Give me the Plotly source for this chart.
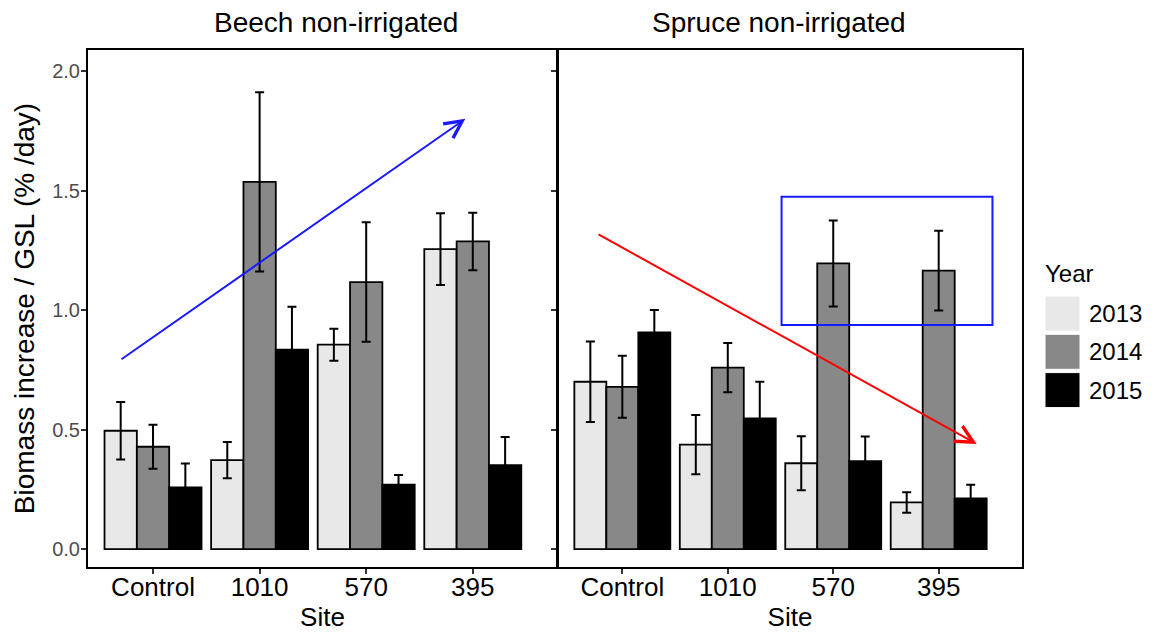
import plotly.graph_objects as go

# ---------------- data ----------------
sites = ["Control", "1010", "570", "395"]
site_pos = [1, 2, 3, 4]
years = ["2013", "2014", "2015"]
year_colors = ["#e8e8e8", "#888888", "#000000"]

beech_2013 = [0.495, 0.372, 0.855, 1.255]
beech_2013_err = [0.120, 0.076, 0.067, 0.150]
beech_2014 = [0.428, 1.536, 1.117, 1.287]
beech_2014_err = [0.092, 0.375, 0.250, 0.120]
beech_2015 = [0.258, 0.834, 0.270, 0.351]
beech_2015_err = [0.100, 0.180, 0.040, 0.118]

spruce_2013 = [0.700, 0.437, 0.359, 0.195]
spruce_2013_err = [0.168, 0.124, 0.113, 0.043]
spruce_2014 = [0.679, 0.759, 1.195, 1.165]
spruce_2014_err = [0.130, 0.103, 0.180, 0.167]
spruce_2015 = [0.907, 0.547, 0.368, 0.212]
spruce_2015_err = [0.093, 0.153, 0.103, 0.057]

panel_titles = ["Beech non-irrigated", "Spruce non-irrigated"]
y_ticks = [0.0, 0.5, 1.0, 1.5, 2.0]

# annotations (data coordinates)
beech_arrow = [(0.69, 0.79), (3.93, 1.80)]     # start, end
spruce_arrow = [(0.76, 1.32), (4.36, 0.44)]
spruce_box = [(2.51, 0.937), (4.51, 1.474)]     # (x0,y0),(x1,y1)

# ---------------- figure ----------------
W, H = 1155, 635
FONT = "Liberation Sans, Arial, Helvetica, sans-serif"

fig = go.Figure()

beech = [(beech_2013, beech_2013_err), (beech_2014, beech_2014_err), (beech_2015, beech_2015_err)]
spruce = [(spruce_2013, spruce_2013_err), (spruce_2014, spruce_2014_err), (spruce_2015, spruce_2015_err)]

for panel, (xa, ya) in zip([beech, spruce], [("x", "y"), ("x2", "y2")]):
    for yr, col, (vals, errs) in zip(years, year_colors, panel):
        fig.add_trace(go.Bar(
            x=site_pos, y=vals, name=yr, xaxis=xa, yaxis=ya,
            offsetgroup=yr, showlegend=False,
            marker=dict(color=col, line=dict(color="#000000", width=1.8)),
            error_y=dict(type="data", array=errs, visible=True,
                         color="#000000", thickness=2, width=4.5),
        ))

x_common = dict(
    range=[0.39, 4.79], tickmode="array", tickvals=site_pos, ticktext=sites,
    ticks="outside", ticklen=5, tickwidth=1.5, tickcolor="#333333",
    showline=True, linecolor="#000000", linewidth=2, mirror=True,
    showgrid=False, zeroline=False, ticklabelstandoff=-9,
    tickfont=dict(family=FONT, size=26, color="#000000"),
    title=dict(text="Site", font=dict(family=FONT, size=26, color="#000000"), standoff=0),
)
y_common = dict(
    range=[-0.075, 2.088], tickmode="array", tickvals=y_ticks, tickformat=".1f",
    ticks="outside", ticklen=5, tickwidth=1.5, tickcolor="#333333",
    showline=True, linecolor="#000000", linewidth=2, mirror=True,
    showgrid=False, zeroline=False,
    tickfont=dict(family=FONT, size=20, color="#4d4d4d"),
)

ydom = [1 - 567 / H, 1 - 50 / H]
fig.update_layout(
    width=W, height=H,
    margin=dict(l=0, r=0, t=0, b=0),
    paper_bgcolor="white", plot_bgcolor="white",
    barmode="group", bargap=0.09, bargroupgap=0,
    showlegend=False,
    xaxis=dict(domain=[88 / W, 557 / W], anchor="y", **x_common),
    xaxis2=dict(domain=[558 / W, 1022 / W], anchor="y2", **x_common),
    yaxis=dict(domain=ydom, anchor="x", ticklabelstandoff=-3,
               title=dict(text="Biomass increase / GSL (% /day)",
                          font=dict(family=FONT, size=28, color="#000000"), standoff=9),
               **y_common),
    yaxis2=dict(domain=ydom, anchor="x2", matches="y", showticklabels=False, **y_common),
)

# panel titles
for txt, cx in zip(panel_titles, [336, 779]):
    fig.add_annotation(text=txt, xref="paper", yref="paper", x=cx / W, y=1 - 22 / H,
                       showarrow=False, xanchor="center", yanchor="middle",
                       font=dict(family=FONT, size=28, color="#000000"))

# arrows
for (s, e), col, xa, ya in [(beech_arrow, "#1a1aff", "x", "y"), (spruce_arrow, "#ff0000", "x2", "y2")]:
    fig.add_annotation(x=e[0], y=e[1], ax=s[0], ay=s[1], xref=xa, yref=ya, axref=xa, ayref=ya,
                       showarrow=True, arrowhead=5, arrowsize=1.7, arrowwidth=2, arrowcolor=col,
                       text="")

# box
fig.add_shape(type="rect", xref="x2", yref="y2",
              x0=spruce_box[0][0], y0=spruce_box[0][1], x1=spruce_box[1][0], y1=spruce_box[1][1],
              line=dict(color="#1a1aff", width=2), fillcolor="rgba(0,0,0,0)")

# legend (drawn manually to match key size)
leg_x0, leg_top, key_w, key_h, key_step = 1045, 296, 35, 35, 38.3
fig.add_annotation(text="Year", xref="paper", yref="paper", x=1043 / W, y=1 - 273 / H,
                   showarrow=False, xanchor="left", yanchor="middle",
                   font=dict(family=FONT, size=24, color="#000000"))
for i, (yr, col) in enumerate(zip(years, year_colors)):
    top = leg_top + i * key_step
    fig.add_shape(type="rect", xref="paper", yref="paper",
                  x0=leg_x0 / W, x1=(leg_x0 + key_w) / W,
                  y0=1 - (top + key_h) / H, y1=1 - top / H,
                  line=dict(color="#ffffff", width=1), fillcolor=col)
    fig.add_annotation(text=yr, xref="paper", yref="paper", x=(leg_x0 + key_w + 7) / W,
                       y=1 - (top + key_h / 2) / H, showarrow=False, xanchor="left", yanchor="middle",
                       font=dict(family=FONT, size=24, color="#000000"))

fig.write_html("out.html")
